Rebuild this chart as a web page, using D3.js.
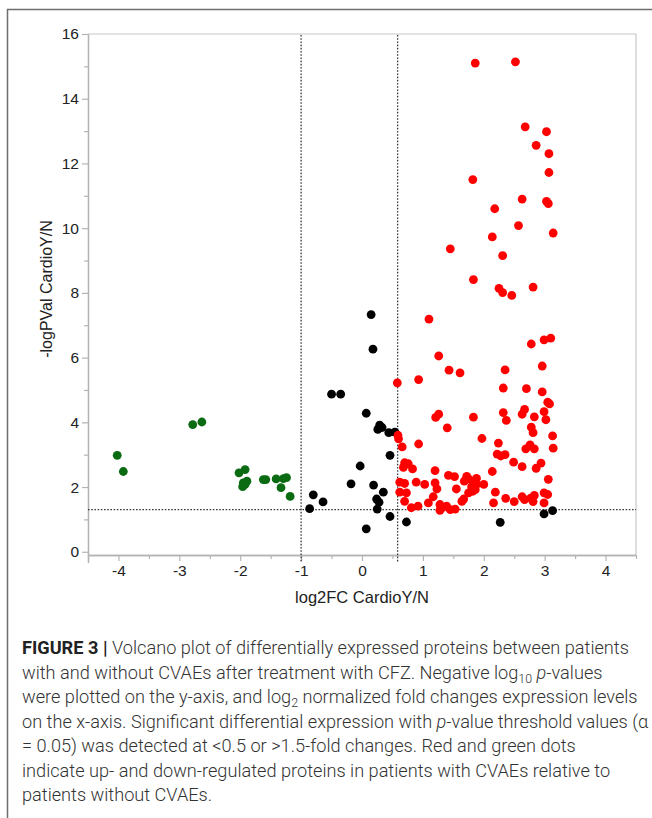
<!DOCTYPE html>
<html>
<head>
<meta charset="utf-8">
<script src="https://cdn.jsdelivr.net/npm/d3@7"></script>
<style>
  html, body { margin: 0; padding: 0; background: #fff; }
  svg { display: block; }
</style>
</head>
<body>
<svg id="chart" width="652" height="818"></svg>
<script>
// ---------- data ----------
const xTicks = [-4, -3, -2, -1, 0, 1, 2, 3, 4];
const yTicks = [0, 2, 4, 6, 8, 10, 12, 14, 16];
const fcThresholds = [-1, 0.585];   // log2 fold-change cut-offs
const pThreshold = 1.301;           // -log10(0.05)

// up-regulated (red): [log2FC, -log10 p]
const upRegulated = [
  [1.86,15.10],[2.52,15.14],[2.68,13.13],[3.03,12.98],[2.86,12.56],[3.07,12.30],[3.07,11.72],
  [1.82,11.50],[2.63,10.90],[3.03,10.83],[3.06,10.76],[2.18,10.60],[2.57,10.08],[3.14,9.85],
  [2.14,9.73],[1.45,9.36],[2.31,9.15],[1.83,8.41],[2.25,8.14],[2.31,8.01],[2.46,7.92],[2.81,8.18],
  [1.10,7.19],[2.78,6.42],[2.99,6.55],[3.10,6.60],[1.26,6.05],[1.43,5.61],[1.61,5.53],[2.35,5.62],
  [2.96,5.74],[0.58,5.22],[0.93,5.32],[2.32,5.06],[2.70,5.04],[2.96,4.94],[3.05,4.62],[3.08,4.57],
  [2.32,4.30],[2.67,4.40],[2.63,4.25],[2.99,4.33],[1.26,4.25],[1.21,4.15],[1.83,4.16],[2.83,4.17],
  [2.37,4.06],[3.02,4.08],[1.40,3.83],[2.78,3.85],[2.81,3.68],[0.59,3.60],[0.60,3.49],[0.93,3.33],
  [1.97,3.50],[0.66,3.24],[2.24,3.36],[2.76,3.30],[2.69,3.18],[2.83,3.18],[3.13,3.58],[3.14,3.20],
  [2.22,3.02],[2.28,2.96],[2.35,3.00],[0.70,2.75],[0.76,2.72],[0.68,2.61],[0.83,2.56],[1.20,2.51],
  [2.49,2.77],[2.63,2.63],[2.94,2.74],[2.86,2.58],[2.14,2.48],[3.06,2.24],[1.42,2.36],[1.52,2.32],
  [1.72,2.33],[1.75,2.25],[1.68,2.18],[1.84,2.18],[1.88,2.27],[1.88,2.08],[1.80,2.01],[1.86,1.92],
  [1.75,1.82],[1.82,1.87],[2.00,2.08],[1.67,1.63],[1.64,1.56],[1.55,1.94],[1.20,2.13],[1.23,1.94],
  [0.62,2.15],[0.70,2.11],[0.89,2.15],[1.03,2.08],[0.62,1.84],[0.73,1.82],[0.70,1.56],[0.81,1.36],
  [0.92,1.41],[1.09,1.51],[1.17,1.70],[1.28,1.46],[1.32,1.36],[1.28,1.28],[1.39,1.41],[1.45,1.30],
  [1.53,1.32],[2.19,1.84],[2.16,1.51],[2.36,1.65],[2.50,1.55],[2.63,1.70],[2.67,1.61],[2.77,1.66],
  [2.81,1.55],[2.83,1.74],[2.99,1.82],[3.05,1.77],[2.99,1.51]
];

// not significant (black)
const notSignificant = [
  [0.15,7.33],[0.18,6.26],[-0.50,4.87],[-0.35,4.87],[0.07,4.28],[0.29,3.91],[0.33,3.84],[0.26,3.78],
  [0.44,3.68],[0.54,3.70],[0.46,2.98],[-0.03,2.65],[-0.18,2.10],[0.19,2.06],[0.35,1.84],[0.24,1.63],
  [0.28,1.53],[-0.80,1.76],[-0.64,1.54],[-0.86,1.33],[0.25,1.32],[0.46,1.09],[0.07,0.71],[0.73,0.92],
  [2.27,0.91],[2.99,1.17],[3.13,1.27]
];

// down-regulated (green)
const downRegulated = [
  [-4.02,2.98],[-3.92,2.48],[-2.78,3.93],[-2.63,4.01],[-2.02,2.44],[-1.92,2.54],[-1.95,2.13],
  [-1.89,2.18],[-1.96,2.01],[-1.92,2.08],[-1.62,2.23],[-1.58,2.23],[-1.41,2.25],[-1.24,2.29],
  [-1.29,2.26],[-1.33,1.98],[-1.18,1.71]
];

const xTitle = "log2FC CardioY/N";
const yTitle = "-logPVal CardioY/N";

// ---------- drawing ----------
const svg = d3.select("#chart");
const pLeft = 88, pRight = 636, pTop = 34, pBottom = 555;

const x = d3.scaleLinear().domain([-4.5, 4.5]).range([pLeft, pRight]);
const y = d3.scaleLinear().domain([-0.1, 16]).range([pBottom, pTop]);

// outer figure frame
svg.append("rect")
  .attr("x", 7.5).attr("y", 9.5).attr("width", 700).attr("height", 900)
  .attr("fill", "none").attr("stroke", "#6e6e6e").attr("stroke-width", 1.5);

// plot frame (top / right)
svg.append("path")
  .attr("d", `M${pLeft},${pTop}H${pRight}V${pBottom}`)
  .attr("fill", "none").attr("stroke", "#c8c8c8").attr("stroke-width", 1.2);

const axisColor = "#b4b4b4";
const labelFont = "'Liberation Sans', Arial, sans-serif";
const tickFmt = d => String(d);

const gxMinor = svg.append("g").attr("transform", `translate(0,${pBottom})`)
  .call(d3.axisBottom(x).tickValues(d3.range(-4.5, 4.51, 1)).tickSize(4).tickFormat(""));
const gx = svg.append("g").attr("transform", `translate(0,${pBottom})`)
  .call(d3.axisBottom(x).tickValues(xTicks).tickSize(6).tickPadding(4).tickFormat(tickFmt));

const gyMinor = svg.append("g").attr("transform", `translate(${pLeft},0)`)
  .call(d3.axisLeft(y).tickValues(d3.range(1, 16, 2)).tickSize(4).tickFormat(""));
const gy = svg.append("g").attr("transform", `translate(${pLeft},0)`)
  .call(d3.axisLeft(y).tickValues(yTicks).tickSize(6).tickPadding(3).tickFormat(tickFmt));

[gxMinor, gx, gyMinor, gy].forEach(g => {
  g.select(".domain").attr("stroke", axisColor).attr("stroke-width", 1.3);
  g.selectAll(".tick line").attr("stroke", axisColor).attr("stroke-width", 1.2);
  g.selectAll("text").attr("font-family", labelFont).attr("font-size", 15.5).attr("fill", "#222");
});
gx.select(".domain").attr("d", `M${pLeft},0.5H${pRight}`);
gxMinor.select(".domain").attr("d", `M${pLeft},0.5H${pRight}`);
gy.select(".domain").attr("d", `M0.5,${y(-0.1) + 8}V${pTop}`);
gyMinor.select(".domain").attr("d", `M0.5,${y(-0.1) + 8}V${pTop}`);

// threshold lines
const dashStyle = { stroke: "#3a3a3a", "stroke-width": 1.3, "stroke-dasharray": "1.6,1.6" };
fcThresholds.forEach(v => {
  const l = svg.append("line")
    .attr("x1", x(v)).attr("x2", x(v)).attr("y1", pTop + 1).attr("y2", pBottom + 7);
  Object.entries(dashStyle).forEach(([k, val]) => l.attr(k, val));
});
const hl = svg.append("line")
  .attr("x1", pLeft).attr("x2", pRight).attr("y1", y(pThreshold)).attr("y2", y(pThreshold));
Object.entries(dashStyle).forEach(([k, val]) => hl.attr(k, val));

// points
const groups = [
  { data: notSignificant, color: "#000000" },
  { data: downRegulated, color: "#0b6b12" },
  { data: upRegulated, color: "#ff0000" }
];
groups.forEach(gp => {
  svg.append("g").selectAll("circle").data(gp.data).join("circle")
    .attr("cx", d => x(d[0])).attr("cy", d => y(d[1])).attr("r", 4.4)
    .attr("fill", gp.color);
});

// axis titles
svg.append("text").attr("x", x(0)).attr("y", 603)
  .attr("text-anchor", "middle").attr("font-family", labelFont).attr("font-size", 16.5)
  .attr("fill", "#222").text(xTitle);
svg.append("text").attr("transform", "translate(52,289) rotate(-90)")
  .attr("text-anchor", "middle").attr("font-family", labelFont).attr("font-size", 16)
  .attr("fill", "#222").text(yTitle);

// caption
const capFont = "Roboto, 'Liberation Sans', Arial, sans-serif";
const captionLines = [
  [["b", "FIGURE 3 | "], ["n", "Volcano plot of differentially expressed proteins between patients"]],
  [["n", "with and without CVAEs after treatment with CFZ. Negative log"], ["sub", "10"], ["n", " "], ["i", "p"], ["n", "-values"]],
  [["n", "were plotted on the y-axis, and log"], ["sub", "2"], ["n", " normalized fold changes expression levels"]],
  [["n", "on the x-axis. Significant differential expression with "], ["i", "p"], ["n", "-value threshold values (α"]],
  [["n", "= 0.05) was detected at <0.5 or >1.5-fold changes. Red and green dots"]],
  [["n", "indicate up- and down-regulated proteins in patients with CVAEs relative to"]],
  [["n", "patients without CVAEs."]]
];
const baseSize = 16;
const capTexts = captionLines.map((ln, i) => {
  const t = svg.append("text").attr("x", 22).attr("y", 654 + i * 24.5)
    .attr("font-family", capFont).attr("fill", "#333").attr("font-weight", 300);
  let prevSub = false;
  ln.forEach(([kind, str]) => {
    const s = t.append("tspan").text(str).attr("class", kind);
    if (kind === "b") s.attr("font-weight", 700).attr("fill", "#222");
    if (kind === "i") s.attr("font-style", "italic");
    if (kind === "sub") s.attr("dy", 4);
    else if (prevSub) s.attr("dy", -4);
    prevSub = kind === "sub";
  });
  return t;
});
function setCapSize(sz) {
  capTexts.forEach(t => {
    t.attr("font-size", sz);
    t.selectAll("tspan.sub").attr("font-size", sz * 0.68);
  });
}
setCapSize(baseSize);
// fit the caption to the width it has in the figure (longest line must stay inside)
const maxW = d3.max(capTexts, t => t.node().getComputedTextLength());
const w3 = capTexts[2].node().getComputedTextLength();
setCapSize(Math.min(baseSize * 626 / w3, baseSize * 627 / maxW));
</script>
</body>
</html>
